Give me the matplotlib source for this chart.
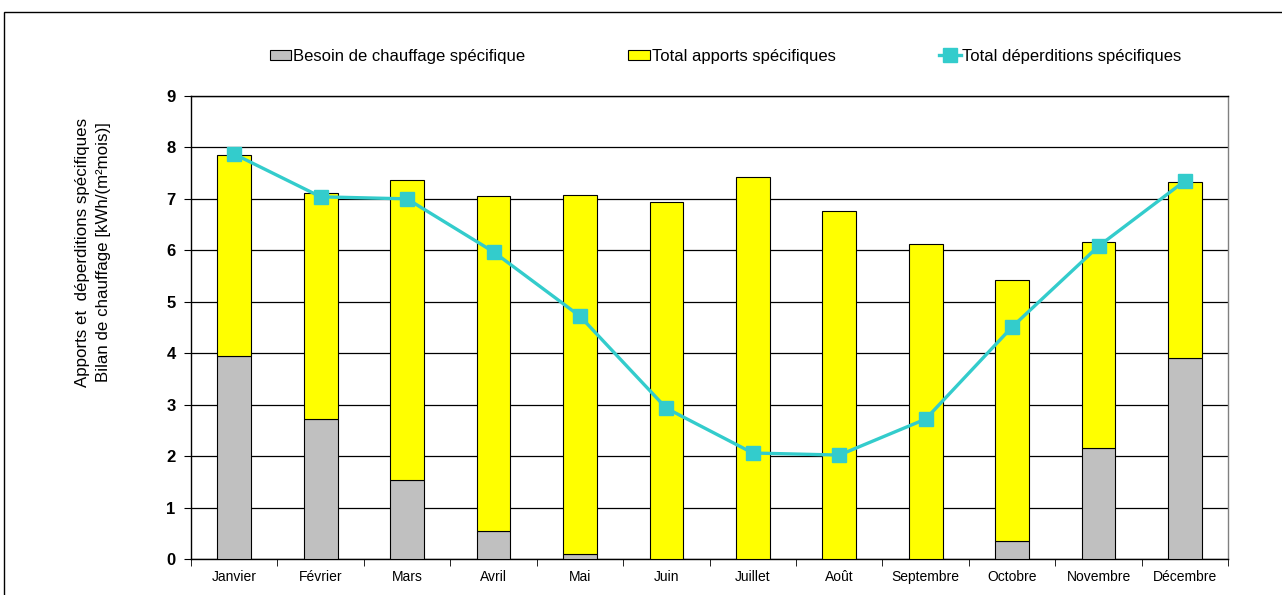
import matplotlib
matplotlib.use("Agg")
import matplotlib.pyplot as plt
import numpy as np
from matplotlib.patches import Rectangle

plt.rcParams['font.family'] = ['Liberation Sans', 'DejaVu Sans']

months = ["Janvier", "Février", "Mars", "Avril", "Mai", "Juin", "Juillet",
          "Août", "Septembre", "Octobre", "Novembre", "Décembre"]
besoin = [3.95, 2.72, 1.54, 0.54, 0.10, 0.0, 0.0, 0.0, 0.0, 0.35, 2.16, 3.91]
apports = [3.91, 4.39, 5.83, 6.52, 6.98, 6.94, 7.42, 6.77, 6.12, 5.07, 4.00, 3.42]
deperditions = [7.87, 7.04, 7.00, 5.97, 4.72, 2.93, 2.06, 2.02, 2.72, 4.51, 6.08, 7.35]
yticks = list(range(0, 10))

fig = plt.figure(figsize=(12.82, 5.95), dpi=100)
ax = fig.add_axes([0.149, 0.0605, 0.809, 0.7782])

x = np.arange(len(months))
w = 0.39
b1 = ax.bar(x, besoin, w, color="#C0C0C0", edgecolor="black", linewidth=0.8,
            label="Besoin de chauffage spécifique", zorder=3)
b2 = ax.bar(x, apports, w, bottom=besoin, color="#FFFF00", edgecolor="black", linewidth=0.8,
            label="Total apports spécifiques", zorder=3)
l1, = ax.plot(x, deperditions, color="#33CCCC", linewidth=2.4, marker="s", markersize=10,
              label="Total déperditions spécifiques", zorder=4)

ax.set_xlim(-0.5, len(months) - 0.5)
ax.set_ylim(0, 9)
ax.set_yticks(yticks)
ax.set_yticklabels([str(t) for t in yticks], fontsize=12, fontweight="bold")
ax.set_xticks(x)
ax.set_xticklabels(months, fontsize=10)
ax.set_xticks(np.arange(-0.5, len(months), 1.0), minor=True)
ax.tick_params(axis="x", which="major", length=0, pad=8)
ax.tick_params(axis="x", which="minor", length=5, direction="out", color="black")
ax.tick_params(axis="y", length=5, direction="out", pad=6)
ax.yaxis.grid(True, color="black", linewidth=0.9, zorder=0)
for s in ["top", "left", "bottom"]:
    ax.spines[s].set_color("black")
    ax.spines[s].set_linewidth(1.0)
ax.spines["right"].set_color("#808080")
ax.spines["right"].set_linewidth(1.0)

ax.set_ylabel("Apports et  déperditions spécifiques\nBilan de chauffage [kWh/(m²mois)]",
              fontsize=12.2, linespacing=1.55)
ax.yaxis.set_label_coords(-0.077, 0.663)

leg = fig.legend([b1, b2, l1],
                 ["Besoin de chauffage spécifique", "Total apports spécifiques",
                  "Total déperditions spécifiques"],
                 loc="center", bbox_to_anchor=(0.566, 0.905), ncol=3, frameon=False,
                 fontsize=12, handlelength=1.3, handleheight=0.6, handletextpad=0.1,
                 columnspacing=6.2)

fig.patches.append(Rectangle((4 / 1282, -0.1), 1.2, 0.1 + (595 - 12) / 595,
                             transform=fig.transFigure, fill=False,
                             edgecolor="black", linewidth=1.0))

fig.savefig("out.png", dpi=100)
